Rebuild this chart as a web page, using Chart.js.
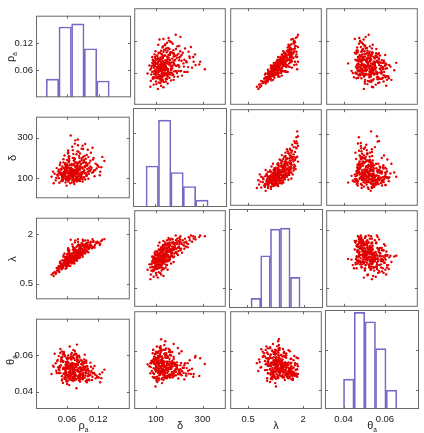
<!DOCTYPE html>
<html>
<head>
<meta charset="utf-8">
<script src="https://cdn.jsdelivr.net/npm/chart.js@4.4.0/dist/chart.umd.min.js"></script>
<style>
    body { margin: 0; background: #fff; width: 424px; height: 433px; position: relative; overflow: hidden;
           font-family: "Liberation Sans", Arial, sans-serif; }
    canvas { position: absolute; }
    .lab { position: absolute; font-size: 11px; color: #222; white-space: nowrap; line-height: 1; }
    .lab sub { font-size: 6.5px; vertical-align: -3px; }
    .ylab { transform: translate(-50%, -50%) rotate(-90deg); }
    .xlab { transform: translate(-50%, 0); }
</style>
</head>
<body>
<script>
// samples (same index = same sample in every panel)
const rhoA = [
    0.072,0.058,0.085,0.049,0.094,0.066,0.078,0.103,0.061,0.081,
    0.045,0.088,0.070,0.056,0.112,0.075,0.063,0.097,0.052,0.083,
    0.068,0.038,0.091,0.074,0.059,0.106,0.079,0.064,0.119,0.054,
    0.087,0.071,0.047,0.095,0.062,0.076,0.099,0.057,0.084,0.067,
    0.128,0.073,0.051,0.089,0.065,0.042,0.080,0.069,0.108,0.060,
    0.077,0.093,0.055,0.072,0.034,0.086,0.101,0.063,0.082,0.048,
    0.070,0.115,0.058,0.079,0.066,0.092,0.053,0.075,0.098,0.061,
    0.084,0.044,0.073,0.090,0.067,0.105,0.056,0.078,0.124,0.064,
    0.081,0.050,0.069,0.096,0.059,0.087,0.074,0.040,0.110,0.065,
    0.076,0.093,0.057,0.071,0.083,0.062,0.100,0.052,0.078,0.068,
    0.088,0.046,0.073,0.117,0.060,0.085,0.066,0.094,0.055,0.079,
    0.030,0.072,0.102,0.063,0.081,0.058,0.091,0.069,0.049,0.076,
    0.097,0.064,0.082,0.053,0.070,0.132,0.059,0.086,0.075,0.043,
    0.067,0.089,0.056,0.079,0.104,0.061,0.074,0.095,0.050,0.083,
    0.066,0.077,0.113,0.057,0.088,0.071,0.036,0.092,0.062,0.080,
    0.054,0.099,0.068,0.085,0.047,0.075,0.109,0.060,0.090,0.072,
    0.081,0.058,0.096,0.065,0.123,0.052,0.078,0.070,0.087,0.039,
    0.084,0.063,0.100,0.055,0.073,0.091,0.067,0.078,0.048,0.106,
    0.061,0.086,0.074,0.057,0.094,0.069,0.082,0.044,0.118,0.064,
    0.076,0.089,0.053,0.071,0.098,0.060,0.080,0.066,0.111,0.050,
    0.070,0.085,0.059,0.093,0.064,0.077,0.046,0.101,0.068,0.082,
    0.073,0.056,0.088,0.062,0.107,0.079,0.051,0.069,0.095,0.041,
    0.066,0.083,0.074,0.058,0.090,0.071,0.114,0.054,0.080,0.063,
    0.078,0.049,0.096,0.067,0.086,0.059,0.072,0.103,0.062,0.091,
    0.057,0.075,0.084,0.069,0.121,0.052,0.080,0.065,0.098,0.076,
    0.061,0.089,0.071,0.047,0.083,0.068,0.093,0.056,0.077,0.105,
    0.074,0.060,0.087,0.064,0.079,0.053,0.099,0.070,0.085,0.033,
    0.082,0.067,0.058,0.092,0.073,0.110,0.062,0.078,0.050,0.088,
    0.069,0.095,0.055,0.076,0.063,0.084,0.126,0.071,0.058,0.081,
    0.066,0.090,0.044,0.077,0.102,0.060,0.073,0.086,0.064,0.097
];
const delta = [
    128,95,160,142,210,118,88,175,150,132,
    78,245,105,170,138,195,122,112,102,148,
    165,90,128,72,136,225,108,185,162,116,
    98,142,130,268,84,155,146,110,182,124,
    205,96,158,120,140,112,232,80,128,168,
    135,190,125,110,76,150,98,205,118,145,
    255,172,92,162,132,106,178,120,215,102,
    140,100,188,84,152,158,138,104,132,118,
    290,120,144,125,64,170,132,150,192,96,
    115,140,160,200,92,128,240,88,148,112,
    130,165,82,148,140,222,100,160,118,176,
    108,136,122,178,94,146,205,126,86,160,
    176,110,128,194,92,185,124,108,270,134,
    144,155,100,122,136,160,184,94,112,210,
    76,126,110,152,190,104,122,132,236,142,
    132,168,118,86,176,140,250,106,148,164,
    108,128,196,150,115,94,218,134,118,102,
    160,90,132,212,120,176,310,98,124,144,
    138,124,172,80,154,106,230,142,166,126,
    94,200,150,130,112,190,156,114,200,104,
    122,182,98,136,152,106,128,204,140,90,
    166,114,126,228,152,84,104,146,178,118,
    134,112,198,154,260,92,140,120,168,186,
    102,148,160,128,116,96,220,138,112,244,
    174,132,144,108,156,126,96,166,118,286,
    104,130,238,118,176,150,104,142,122,186,
    88,158,118,196,140,110,162,126,100,132,
    148,120,136,182,110,130,222,160,92,108,
    170,124,148,134,98,200,154,114,128,262,
    114,96,124,178,150,136,142,124,208,172
];
const lambda = [
    1.30,1.05,1.46,1.12,1.66,1.22,1.24,1.68,1.30,1.40,
    0.86,1.74,1.20,1.32,1.63,1.55,1.18,1.48,1.02,1.44,
    1.41,0.80,1.50,1.12,1.22,1.78,1.33,1.42,1.75,1.10,
    1.38,1.36,1.02,1.82,1.05,1.45,1.60,1.12,1.55,1.25,
    1.84,1.22,1.22,1.48,1.32,0.92,1.66,1.12,1.58,1.34,
    1.38,1.68,1.16,1.26,0.74,1.50,1.46,1.48,1.36,1.10,
    1.70,1.76,1.04,1.48,1.28,1.44,1.32,1.30,1.74,1.12,
    1.46,0.90,1.52,1.32,1.36,1.68,1.18,1.28,1.72,1.20,
    1.86,1.06,1.34,1.54,0.98,1.58,1.34,0.98,1.78,1.14,
    1.30,1.54,1.26,1.54,1.32,1.22,1.82,0.98,1.42,1.24,
    1.48,1.14,1.14,1.74,1.26,1.68,1.16,1.60,1.12,1.52,
    0.78,1.34,1.56,1.40,1.30,1.24,1.70,1.28,0.94,1.44,
    1.66,1.18,1.40,1.36,1.16,1.86,1.16,1.38,1.76,1.00,
    1.32,1.56,1.06,1.34,1.62,1.32,1.52,1.42,1.02,1.64,
    1.04,1.34,1.60,1.24,1.64,1.22,0.86,1.52,1.56,1.42,
    1.14,1.68,1.24,1.30,1.18,1.38,1.86,1.10,1.54,1.44,
    1.34,1.18,1.72,1.34,1.68,1.00,1.62,1.32,1.42,0.84,
    1.52,1.06,1.58,1.42,1.28,1.64,1.84,1.26,1.04,1.64,
    1.26,1.44,1.48,0.96,1.60,1.20,1.70,1.04,1.78,1.24,
    1.22,1.70,1.20,1.32,1.50,1.40,1.48,1.20,1.80,1.00,
    1.26,1.60,1.04,1.52,1.32,1.24,1.00,1.76,1.34,1.28,
    1.46,1.10,1.44,1.58,1.66,1.20,1.02,1.32,1.66,0.90,
    1.28,1.34,1.58,1.24,1.84,1.16,1.68,1.10,1.52,1.44,
    1.24,1.10,1.62,1.30,1.38,1.06,1.60,1.60,1.16,1.80,
    1.30,1.36,1.48,1.20,1.76,1.10,1.28,1.38,1.50,1.82,
    1.12,1.46,1.64,1.04,1.56,1.36,1.44,1.22,1.30,1.74,
    1.18,1.30,1.42,1.46,1.40,1.06,1.64,1.26,1.36,0.82,
    1.46,1.24,1.20,1.66,1.24,1.62,1.52,1.46,0.96,1.40,
    1.42,1.52,1.20,1.36,1.10,1.64,1.80,1.24,1.16,1.78,
    1.20,1.38,0.96,1.50,1.62,1.24,1.36,1.44,1.52,1.68
];
const thetaA = [
    0.0498,0.0562,0.0534,0.0581,0.0476,0.0513,0.0605,0.0489,0.0527,0.0546,
    0.0517,0.0552,0.0468,0.0594,0.0503,0.0484,0.0539,0.0571,0.0448,0.0508,
    0.0576,0.0556,0.0492,0.0521,0.0463,0.0537,0.0588,0.0505,0.0479,0.0618,
    0.0531,0.0474,0.0503,0.0566,0.0542,0.0609,0.0461,0.0487,0.0528,0.0553,
    0.0506,0.0583,0.0469,0.0495,0.0648,0.0574,0.0512,0.0536,0.0464,0.0492,
    0.0543,0.0519,0.0601,0.0458,0.0537,0.0572,0.0501,0.0526,0.0482,0.0565,
    0.0509,0.0473,0.0547,0.0592,0.0481,0.0535,0.0498,0.0623,0.0514,0.0457,
    0.0488,0.0595,0.0528,0.0546,0.0503,0.0559,0.0471,0.0517,0.0452,0.0584,
    0.0562,0.0485,0.0612,0.0499,0.0531,0.0476,0.0548,0.0502,0.0527,0.0466,
    0.0495,0.0577,0.0518,0.0586,0.0462,0.0541,0.0484,0.0604,0.0533,0.0491,
    0.0524,0.0541,0.0497,0.0488,0.0566,0.0455,0.0512,0.0603,0.0478,0.0569,
    0.0497,0.0629,0.0515,0.0472,0.0553,0.0508,0.0481,0.0538,0.0587,0.0464,
    0.0558,0.0493,0.0527,0.0614,0.0482,0.0521,0.0456,0.0509,0.0573,0.0534,
    0.0544,0.0469,0.0523,0.0658,0.0491,0.0578,0.0506,0.0532,0.0461,0.0597,
    0.0486,0.0552,0.0541,0.0496,0.0513,0.0592,0.0608,0.0477,0.0537,0.0519,
    0.0529,0.0538,0.0579,0.0467,0.0634,0.0501,0.0482,0.0442,0.0564,0.0511,
    0.0574,0.0501,0.0459,0.0545,0.0496,0.0562,0.0488,0.0523,0.0551,0.0515,
    0.0478,0.0558,0.0526,0.0497,0.0601,0.0484,0.0533,0.0419,0.0545,0.0506,
    0.0586,0.0512,0.0465,0.0548,0.0529,0.0591,0.0473,0.0524,0.0481,0.0436,
    0.0537,0.0494,0.0567,0.0508,0.0452,0.0541,0.0595,0.0476,0.0503,0.0621,
    0.0551,0.0496,0.0583,0.0518,0.0473,0.0546,0.0532,0.0489,0.0604,0.0511,
    0.0528,0.0506,0.0571,0.0485,0.0513,0.0549,0.0591,0.0462,0.0537,0.0568,
    0.0502,0.0563,0.0481,0.0527,0.0468,0.0539,0.0494,0.0612,0.0518,0.0476,
    0.0544,0.0575,0.0507,0.0531,0.0489,0.0556,0.0514,0.0462,0.0598,0.0503,
    0.0533,0.0492,0.0587,0.0551,0.0478,0.0524,0.0566,0.0509,0.0541,0.0472,
    0.0563,0.0527,0.0498,0.0612,0.0485,0.0539,0.0556,0.0471,0.0518,0.0492,
    0.0487,0.0546,0.0521,0.0504,0.0579,0.0532,0.0466,0.0558,0.0495,0.0543,
    0.0514,0.0592,0.0478,0.0535,0.0553,0.0501,0.0527,0.0469,0.0571,0.0519,
    0.0548,0.0488,0.0531,0.0605,0.0506,0.0493,0.0474,0.0537,0.0562,0.0482,
    0.0526,0.0559,0.0502,0.0541,0.0467,0.0584,0.0512,0.0495,0.0538,0.0521
];

// histograms on the diagonal: bin centres and counts
const rhoBins = [0.0314, 0.0556, 0.0797, 0.1039, 0.1277];
const rhoCounts = [40, 155, 162, 107, 36];
const deltaBins = [87, 139, 191, 243, 295];
const deltaCounts = [108, 229, 91, 54, 18];
const lambdaBins = [0.726, 0.983, 1.243, 1.508, 1.774];
const lambdaCounts = [19, 104, 157, 159, 61];
const thetaBins = [0.0425, 0.0477, 0.0529, 0.0580, 0.0632];
const thetaCounts = [51, 165, 149, 103, 32];

// tick values and labels
const rhoTicks = [0.06, 0.12];
const rhoTickLabels = ['0.06', '0.12'];
const deltaTicks = [100, 300];
const deltaTickLabels = ['100', '300'];
const lambdaTicks = [0.5, 2];
const lambdaTickLabels = ['0.5', '2'];
const thetaTicks = [0.04, 0.06];
const thetaTickLabels = ['0.04', '0.06'];

const vars = [
    { values: rhoA, bins: rhoBins, counts: rhoCounts, ticks: rhoTicks, labels: rhoTickLabels,
      xRange: [0, 0.181], yRange: [0, 0.182], countMax: 180, title: 'ρ<sub>a</sub>' },
    { values: delta, bins: deltaBins, counts: deltaCounts, ticks: deltaTicks, labels: deltaTickLabels,
      xRange: [6.5, 400], yRange: [2, 402], countMax: 261, title: 'δ' },
    { values: lambda, bins: lambdaBins, counts: lambdaCounts, ticks: lambdaTicks, labels: lambdaTickLabels,
      xRange: [0.013, 2.51], yRange: [0.03, 2.51], countMax: 197, title: 'λ' },
    { values: thetaA, bins: thetaBins, counts: thetaCounts, ticks: thetaTicks, labels: thetaTickLabels,
      xRange: [0.031, 0.0765], yRange: [0.0305, 0.080], countMax: 169, title: 'θ<sub>a</sub>' }
];

// panel geometry
const colLeft = [36, 133, 229, 325];
const colW = [95, 94, 94, 94];
const rowTop = [7, 108, 209, 310];
const rowH = 99;
const yAxisW = 36;
const xAxisH = 24;

const tickFont = { family: '"Liberation Sans", Arial, sans-serif', size: 9.5 };

// box around each panel with small inward ticks
const panelBox = {
    id: 'panelBox',
    afterDatasetsDraw(chart, args, opts) {
        const { ctx, chartArea: a, scales } = chart;
        ctx.save();
        ctx.strokeStyle = '#6a6a6a';
        ctx.lineWidth = 1;
        ctx.beginPath();
        opts.xTicks.forEach(v => {
            const px = Math.round(scales.x.getPixelForValue(v)) + 0.5;
            ctx.moveTo(px, a.bottom); ctx.lineTo(px, a.bottom - 3);
            ctx.moveTo(px, a.top); ctx.lineTo(px, a.top + 3);
        });
        opts.yTicks.forEach(v => {
            const py = Math.round(scales.y.getPixelForValue(v)) + 0.5;
            ctx.moveTo(a.left, py); ctx.lineTo(a.left + 3, py);
            ctx.moveTo(a.right, py); ctx.lineTo(a.right - 3, py);
        });
        ctx.stroke();
        ctx.strokeRect(a.left + 0.5, a.top + 0.5, a.width - 1, a.height - 1);
        ctx.restore();
    }
};

function makeAxis(v, range, show, horizontal) {
    return {
        type: 'linear',
        min: range[0],
        max: range[1],
        display: show,
        offset: false,
        grid: { display: false, drawTicks: false },
        border: { display: false },
        ticks: {
            font: tickFont,
            color: '#222',
            padding: horizontal ? 5 : 3,
            maxRotation: 0,
            autoSkip: false,
            callback: (val, i) => v.labels[i]
        },
        afterBuildTicks: s => { s.ticks = v.ticks.map(t => ({ value: t })); },
        afterFit: s => {
            if (!show) return;
            if (horizontal) s.height = xAxisH; else s.width = yAxisW;
        }
    };
}

for (let r = 0; r < 4; r++) {
    for (let c = 0; c < 4; c++) {
        const vx = vars[c];
        const vy = vars[r];
        const canvas = document.createElement('canvas');
        const w = colW[c] + (c === 0 ? yAxisW : 0);
        const h = rowH + (r === 3 ? xAxisH : 0);
        canvas.width = w;
        canvas.height = h;
        canvas.style.left = (c === 0 ? 0 : colLeft[c]) + 'px';
        canvas.style.top = rowTop[r] + 'px';
        canvas.style.width = w + 'px';
        canvas.style.height = h + 'px';
        document.body.appendChild(canvas);

        const scales = {
            x: makeAxis(vx, vx.xRange, r === 3, true),
            y: makeAxis(vy, vy.yRange, c === 0, false)
        };

        let type, datasets;
        if (r === c) {
            type = 'bar';
            scales.yc = { type: 'linear', display: false, min: 0, max: vx.countMax };
            datasets = [{
                data: vx.bins.map((b, i) => ({ x: b, y: vx.counts[i] })),
                xAxisID: 'x',
                yAxisID: 'yc',
                backgroundColor: 'rgba(255,255,255,0)',
                borderColor: '#7868c8',
                borderWidth: 1,
                barPercentage: 1,
                categoryPercentage: 1
            }];
        } else {
            type = 'scatter';
            datasets = [{
                data: vx.values.map((xv, i) => ({ x: xv, y: vy.values[i] })),
                pointRadius: 1.2,
                pointHoverRadius: 0,
                pointBorderWidth: 0,
                backgroundColor: '#e20000'
            }];
        }

        new Chart(canvas, {
            type: type,
            data: { datasets: datasets },
            options: {
                responsive: false,
                animation: false,
                devicePixelRatio: 1,
                events: [],
                layout: { padding: 0 },
                scales: scales,
                plugins: {
                    legend: { display: false },
                    tooltip: { enabled: false },
                    panelBox: { xTicks: vx.ticks, yTicks: vy.ticks }
                }
            },
            plugins: [panelBox]
        });
    }
}

// axis titles
vars.forEach((v, i) => {
    const yl = document.createElement('div');
    yl.className = 'lab ylab';
    yl.innerHTML = v.title;
    yl.style.left = '12px';
    yl.style.top = (rowTop[i] + rowH / 2) + 'px';
    document.body.appendChild(yl);

    const xl = document.createElement('div');
    xl.className = 'lab xlab';
    xl.innerHTML = v.title;
    xl.style.left = (colLeft[i] + colW[i] / 2) + 'px';
    xl.style.top = '420px';
    document.body.appendChild(xl);
});
</script>
</body>
</html>
